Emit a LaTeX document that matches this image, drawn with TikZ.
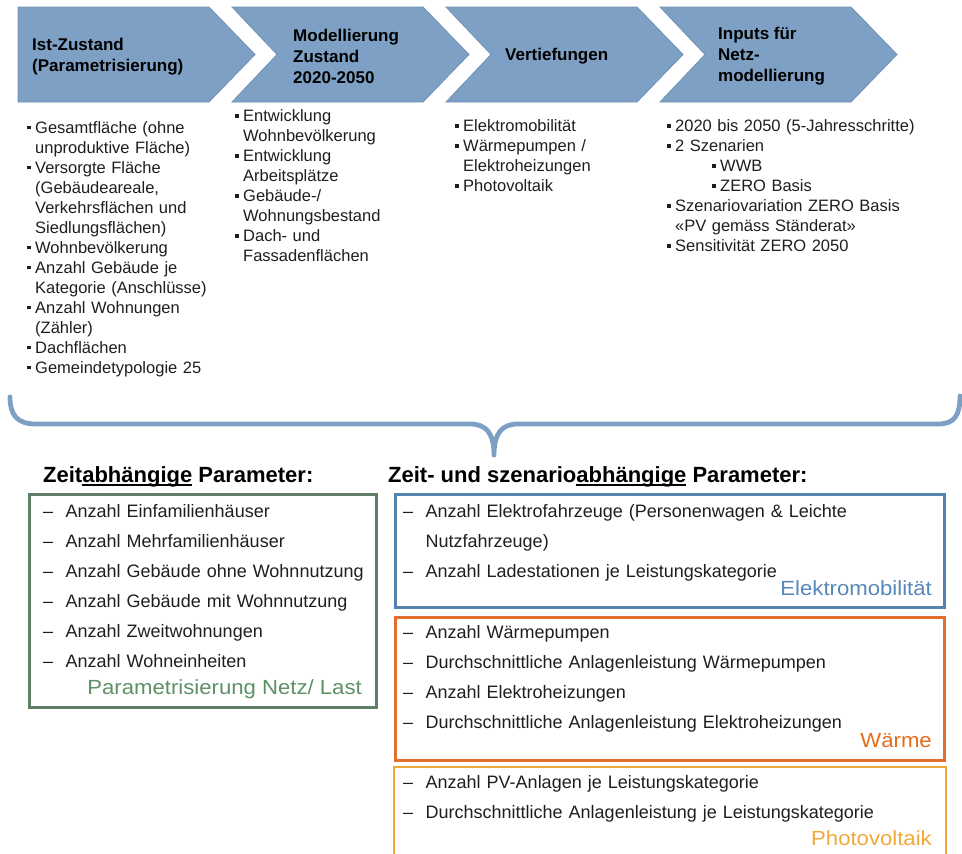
\documentclass[tikz,border=0pt]{standalone}
\usepackage{fontspec}
\setmainfont{Liberation Sans}
\newfontfamily\labfont{Liberation Sans}[FakeStretch=1.08]
\definecolor{chevfill}{HTML}{7DA0C4}
\definecolor{chevdraw}{HTML}{6F92B6}
\definecolor{bracecol}{HTML}{7BA0C4}
\definecolor{greenline}{HTML}{617F66}
\definecolor{greenlab}{HTML}{5E9066}
\definecolor{blueline}{HTML}{5583AE}
\definecolor{bluelab}{HTML}{5587B8}
\definecolor{orangeline}{HTML}{E0702C}
\definecolor{orangelab}{HTML}{E46C1A}
\definecolor{yellowline}{HTML}{EFA83A}
\definecolor{yellowlab}{HTML}{F0A838}
\definecolor{txt}{HTML}{1E1E1E}
\newcommand\bitem[1]{\par{\leftskip=8pt\noindent\hspace*{-8pt}\strut\makebox[8pt][l]{\rule[4pt]{3.5pt}{3.5pt}}#1\par}}
\newcommand\bsubitem[1]{\par{\leftskip=53pt\noindent\hspace*{-8pt}\strut\makebox[8pt][l]{\rule[4pt]{3.5pt}{3.5pt}}#1\par}}
\newcommand\ditem[1]{\par{\leftskip=22.5pt\noindent\hspace*{-22.5pt}\strut\makebox[22.5pt][l]{\textendash}#1\par}}
\newcommand\myul[1]{\setbox0\hbox{#1}\rlap{\rule[-3.5pt]{\wd0}{1.6pt}}\box0\relax}
\begin{document}
\begin{tikzpicture}[x=1pt,y=-1pt,
  chev/.style={fill=chevfill,draw=chevdraw,line width=0.8pt,line join=miter},
  chevtext/.style={font=\fontsize{17}{21}\selectfont\bfseries,align=left,anchor=west,inner sep=0pt,text=black},
  blist/.style={anchor=north west,inner sep=0pt,text width=290pt,align=left,text=txt,
    font=\fontsize{16.5}{20}\selectfont\setlength\parskip{0pt}\setlength\parindent{0pt}},
  dlist/.style={anchor=north west,inner sep=0pt,text width=540pt,align=left,text=txt,
    font=\fontsize{18}{30}\selectfont\setlength\parskip{0pt}\setlength\parindent{0pt}},
  pbox/.style={draw,line width=2.6pt,anchor=north west,inner sep=0pt},
  boxlab/.style={anchor=base east,inner sep=0pt,font=\labfont\fontsize{20.5}{24}\selectfont},
  headtext/.style={anchor=base west,inner sep=0pt,font=\fontsize{22}{26}\selectfont\bfseries,text=black}
]
\useasboundingbox (0,0) rectangle (962,854);

% chevrons
\draw[chev] (18,7) -- (209,7) -- (255,54.5) -- (209,102) -- (18,102) -- cycle;
\draw[chev] (232,7) -- (423,7) -- (469,54.5) -- (423,102) -- (232,102) -- (277,54.5) -- cycle;
\draw[chev] (446,7) -- (637,7) -- (683,54.5) -- (637,102) -- (446,102) -- (491,54.5) -- cycle;
\draw[chev] (660,7) -- (851,7) -- (897,54.5) -- (851,102) -- (660,102) -- (705,54.5) -- cycle;

\node[chevtext] (c1) at (32,56.5) {Ist-Zustand\\(Parametrisierung)};
\node[chevtext] (c2) at (293,56.5) {Modellierung\\Zustand\\2020-2050};
\node[chevtext] (c3) at (505,56) {Vertiefungen};
\node[chevtext] (c4) at (718,56.5) {Inputs für\\Netz-\\modellierung};

% bullet lists
\node[blist] (l1) at (27,113) {%
\bitem{Gesamtfläche (ohne\\unproduktive Fläche)}
\bitem{Versorgte Fläche\\(Gebäudeareale,\\Verkehrsflächen und\\Siedlungsflächen)}
\bitem{Wohnbevölkerung}
\bitem{Anzahl Gebäude je\\Kategorie (Anschlüsse)}
\bitem{Anzahl Wohnungen\\(Zähler)}
\bitem{Dachflächen}
\bitem{Gemeindetypologie 25}};

\node[blist] (l2) at (235,101.5) {%
\bitem{Entwicklung\\Wohnbevölkerung}
\bitem{Entwicklung\\Arbeitsplätze}
\bitem{Gebäude-/\\Wohnungsbestand}
\bitem{Dach- und\\Fassadenflächen}};

\node[blist] (l3) at (455,111.5) {%
\bitem{Elektromobilität}
\bitem{Wärmepumpen /\\Elektroheizungen}
\bitem{Photovoltaik}};

\node[blist] (l4) at (667,111.5) {%
\bitem{2020 bis 2050 (5-Jahresschritte)}
\bitem{2 Szenarien}
\bsubitem{WWB}
\bsubitem{ZERO Basis}
\bitem{Szenariovariation ZERO Basis\\«PV gemäss Ständerat»}
\bitem{Sensitivität ZERO 2050}};

% brace
\draw[bracecol,line width=4.8pt,line cap=round,line join=round]
  (10,397) .. controls (10,416) and (18,424) .. (36,424) -- (470,424)
  .. controls (486,424) and (494,433) .. (494,455)
  .. controls (494,433) and (502,424) .. (518,424) -- (938,424)
  .. controls (954,424) and (960,416) .. (960,396);

% headings
\node[headtext] (h1) at (43,482) {Zeit\myul{abhängige} Parameter:};
\node[headtext] (h2) at (388,482) {Zeit- und szenario\myul{abhängige} Parameter:};

% green box
\node[pbox,draw=greenline,minimum width=347pt,minimum height=213pt] (gbox) at (28,493) {};
\node[dlist] (gl) at (43,487.5) {%
\ditem{Anzahl Einfamilienhäuser}
\ditem{Anzahl Mehrfamilienhäuser}
\ditem{Anzahl Gebäude ohne Wohnnutzung}
\ditem{Anzahl Gebäude mit Wohnnutzung}
\ditem{Anzahl Zweitwohnungen}
\ditem{Anzahl Wohneinheiten}};
\node[boxlab,text=greenlab] (glab) at (362,694) {Parametrisierung Netz/ Last};

% blue box
\node[pbox,draw=blueline,minimum width=549pt,minimum height=113pt] (bbox) at (394,493) {};
\node[dlist] (bl) at (403,487.5) {%
\ditem{Anzahl Elektrofahrzeuge (Personenwagen \& Leichte\\Nutzfahrzeuge)}
\ditem{Anzahl Ladestationen je Leistungskategorie}};
\node[boxlab,text=bluelab] (blab) at (932,595) {Elektromobilität};

% orange box
\node[pbox,draw=orangeline,minimum width=549pt,minimum height=143pt] (obox) at (394,616) {};
\node[dlist] (ol) at (403,608.5) {%
\ditem{Anzahl Wärmepumpen}
\ditem{Durchschnittliche Anlagenleistung Wärmepumpen}
\ditem{Anzahl Elektroheizungen}
\ditem{Durchschnittliche Anlagenleistung Elektroheizungen}};
\node[boxlab,text=orangelab] (olab) at (932,747) {Wärme};

% yellow box (cut at bottom)
\draw[yellowline,line width=2.6pt] (394,856) -- (394,767) -- (946,767) -- (946,856);
\node[dlist] (yl) at (403,758.5) {%
\ditem{Anzahl PV-Anlagen je Leistungskategorie}
\ditem{Durchschnittliche Anlagenleistung je Leistungskategorie}};
\node[boxlab,text=yellowlab] (ylab) at (932,845) {Photovoltaik};
\end{tikzpicture}
\end{document}
